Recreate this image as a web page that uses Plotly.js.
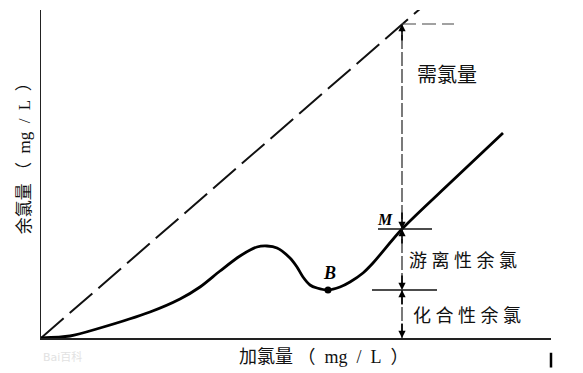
<!DOCTYPE html>
<html>
<head>
<meta charset="utf-8">
<script src="https://cdn.plot.ly/plotly-3.0.1.min.js"></script>
<style>html,body{margin:0;padding:0;background:#fff;}#chart{width:583px;height:373px;}</style>
</head>
<body>
<div id="chart"></div>
<script>
// Breakpoint chlorination curve (arbitrary units)
const curveX = [0, 29, 59, 109, 139, 159, 179, 199, 216, 226, 236, 249, 256, 262, 269, 276, 287, 299, 309, 322, 332, 361, 409, 462];
const curveY = [0, 2, 10, 26, 39, 51, 67, 82, 91, 92, 90, 80, 71, 61, 53, 50, 48, 51, 56, 65, 75, 109, 155, 205];
const demandX = [0, 380];
const demandY = [0, 330];
const pointB = {x: 287, y: 48};
const pointM = {x: 361, y: 109};
const dimX = 361;
const levelTop = 314;      // chlorine added line at dimension
const levelM = 109;        // free residual top
const levelCombined = 48;  // combined residual top
const S = '\u00a0';
const labels = {
  xTitle: '加氯量' + S + '（' + S + S + 'mg' + S + S + '/' + S + S + 'L' + S + S + '）',
  yTitle: '余氯量' + S + '（' + S + S + 'mg' + S + S + '/' + S + S + 'L' + S + S + '）',
  demand: '需氯量',
  free: '游 离 性 余 氯',
  combined: '化 合 性 余 氯',
  M: 'M',
  B: 'B'
};

const cjk = '"Liberation Serif", "Noto Sans CJK SC", serif';
const traces = [
  {x: demandX, y: demandY, mode: 'lines', line: {color: '#111', width: 2, dash: '30px,8px'}, hoverinfo: 'skip'},
  {x: curveX, y: curveY, mode: 'lines', line: {color: '#000', width: 2.8, shape: 'spline', smoothing: 0.8}, hoverinfo: 'skip'},
  {x: [pointB.x], y: [pointB.y], mode: 'markers', marker: {color: '#000', size: 7}, hoverinfo: 'skip'},
  // dimension line
  {x: [dimX, dimX], y: [0, levelTop], mode: 'lines', line: {color: '#333', width: 1.3, dash: '14px,3px'}, hoverinfo: 'skip'},
  // extension at top
  {x: [dimX, dimX + 52], y: [levelTop, levelTop], mode: 'lines', line: {color: '#444', width: 1.2, dash: '14px,6px'}, hoverinfo: 'skip'},
  // tick at M
  {x: [dimX - 24, dimX + 30], y: [levelM, levelM], mode: 'lines', line: {color: '#111', width: 1.4}, hoverinfo: 'skip'},
  // tick at combined level
  {x: [dimX - 30, dimX + 35], y: [levelCombined, levelCombined], mode: 'lines', line: {color: '#111', width: 1.4}, hoverinfo: 'skip'}
];

function arrow(yHead, yTail) {
  return {x: dimX, y: yHead, ax: dimX, ay: yTail, xref: 'x', yref: 'y', axref: 'x', ayref: 'y',
    showarrow: true, arrowhead: 2, arrowsize: 0.9, arrowwidth: 1.6, arrowcolor: '#000', text: ''};
}

const annotations = [
  arrow(levelTop, levelTop - 18),
  arrow(levelM, levelM + 18),
  arrow(levelM, levelM - 16),
  arrow(levelCombined, levelCombined + 16),
  arrow(levelCombined, levelCombined - 16),
  arrow(0, 16),
  {x: 406, y: 263, xref: 'x', yref: 'y', text: labels.demand, showarrow: false, font: {family: cjk, size: 20, color: '#111'}},
  {x: 422, y: 77, xref: 'x', yref: 'y', text: labels.free, showarrow: false, font: {family: cjk, size: 18, color: '#111'}},
  {x: 426, y: 22, xref: 'x', yref: 'y', text: labels.combined, showarrow: false, font: {family: cjk, size: 18, color: '#111'}},
  {x: 344, y: 119, xref: 'x', yref: 'y', text: '<b><i>' + labels.M + '</i></b>', showarrow: false, font: {family: '"Liberation Serif", serif', size: 16, color: '#000'}},
  {x: 288, y: 65, xref: 'x', yref: 'y', text: '<b><i>' + labels.B + '</i></b>', showarrow: false, font: {family: '"Liberation Serif", serif', size: 18, color: '#000'}},
  {x: 283, y: -0.058, xref: 'x', yref: 'paper', xanchor: 'center', yanchor: 'middle', text: labels.xTitle, showarrow: false, font: {family: cjk, size: 18, color: '#111'}},
  {x: -0.0333, y: 0.56, xref: 'paper', yref: 'paper', xanchor: 'center', yanchor: 'middle', text: labels.yTitle, textangle: -90, showarrow: false, font: {family: cjk, size: 17, color: '#111'}},
  {x: 0.0, y: -0.03, xref: 'paper', yref: 'paper', xanchor: 'left', yanchor: 'top', text: 'Bai百科', showarrow: false, font: {family: '"DejaVu Sans", "Noto Sans CJK SC"', size: 11, color: '#e2e2e2'}}
];

const layout = {
  width: 583, height: 373,
  margin: {l: 41, r: 32, t: 10, b: 35, pad: 0},
  paper_bgcolor: '#fff', plot_bgcolor: '#fff',
  showlegend: false,
  xaxis: {range: [0, 510], showgrid: false, zeroline: false, showticklabels: false, ticks: '', showline: true, linecolor: '#222', linewidth: 1.5, fixedrange: true},
  yaxis: {range: [0, 328], showgrid: false, zeroline: false, showticklabels: false, ticks: '', showline: true, linecolor: '#222', linewidth: 1.5, fixedrange: true},
  annotations: annotations,
  shapes: [
    {type: 'line', xref: 'paper', yref: 'paper', x0: 1.0, x1: 1.0, y0: -0.045, y1: -0.09, line: {color: '#000', width: 2.5}}
  ]
};

Plotly.newPlot('chart', traces, layout, {staticPlot: true, displayModeBar: false});
</script>
</body>
</html>
